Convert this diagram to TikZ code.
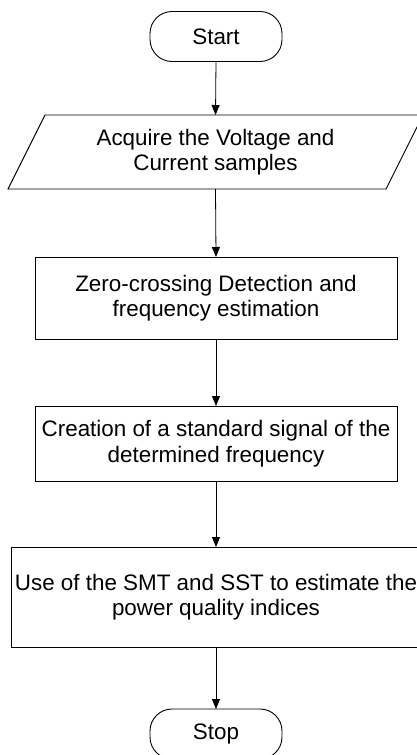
\documentclass[tikz,border=0pt]{standalone}
\usepackage{fontspec}
\setmainfont{Liberation Sans}
\usetikzlibrary{arrows.meta}
\begin{document}
\begin{tikzpicture}[x=1pt,y=-1pt,
  every node/.style={inner sep=0pt,outer sep=0pt,align=center,
    font=\fontsize{22.4}{25.5}\selectfont},
  terminal/.style={draw,line width=0.9pt,rounded corners=22pt,
    minimum width=132pt,minimum height=50pt},
  process/.style={draw,line width=0.9pt,minimum width=362pt},
  iobox/.style={minimum width=378pt,minimum height=74pt},
  flow/.style={draw,line width=0.8pt,-{Triangle[length=10pt,width=8pt]}}]
  \useasboundingbox (0,0) rectangle (417,755);
  \clip (0,0) rectangle (417,755);

  % terminals
  \node[terminal] (start) at (216,36.5) {Start};
  \node[terminal] (stop) at (216,734) {Stop};

  % input step drawn as a parallelogram around its node
  \node[iobox] (acq) at (215.5,152) {Acquire the Voltage and\\Current samples};
  \draw[line width=0.9pt]
    ([xshift=18.5pt]acq.north west) -- ([xshift=18.5pt]acq.north east)
    -- ([xshift=-18.5pt]acq.south east) -- ([xshift=-18.5pt]acq.south west)
    -- cycle;

  % processing steps
  \node[process,minimum height=82pt] (zcd) at (216,298)
    {Zero-crossing Detection and\\frequency estimation};
  \node[process,minimum height=75pt] (sig) at (216,443.5)
    {Creation of a standard signal of the\\determined frequency};
  \node[process,minimum width=410pt,minimum height=100pt] (pqi) at (216,597)
    {Use of the SMT and SST to estimate the\\power quality indices};

  % connectors
  \draw[flow] (start.south) -- (acq.north);
  \draw[flow] (acq.south) -- (zcd.north);
  \draw[flow] (zcd.south) -- (sig.north);
  \draw[flow] (sig.south) -- (pqi.north);
  \draw[flow] (pqi.south) -- (stop.north);
\end{tikzpicture}
\end{document}
